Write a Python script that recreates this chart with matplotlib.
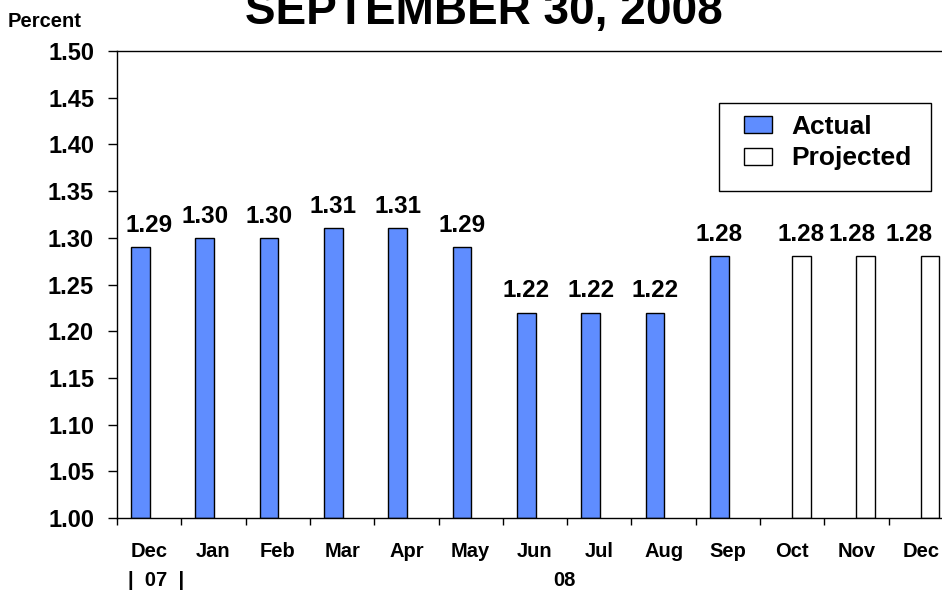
import matplotlib.pyplot as plt
import matplotlib.transforms as mtransforms
from matplotlib.patches import Patch, Rectangle
import numpy as np

plt.rcParams['font.family'] = ['Liberation Sans', 'DejaVu Sans']
plt.rcParams['font.weight'] = 'bold'

months = ['Dec', 'Jan', 'Feb', 'Mar', 'Apr', 'May', 'Jun', 'Jul', 'Aug', 'Sep', 'Oct', 'Nov', 'Dec']
actual = [1.29, 1.30, 1.30, 1.31, 1.31, 1.29, 1.22, 1.22, 1.22, 1.28]
projected = [1.28, 1.28, 1.28]
yticks = [1.00, 1.05, 1.10, 1.15, 1.20, 1.25, 1.30, 1.35, 1.40, 1.45, 1.50]

blue = '#5F8DFF'
W, H = 942, 590

fig = plt.figure(figsize=(9.42, 5.9), dpi=100)
ax = fig.add_axes([117 / W, 1 - 518 / H, 836 / W, 467 / H])

x_act = np.arange(len(actual)) - 0.135
x_proj = np.arange(len(actual), len(months)) + 0.14
w = 0.29

ax.bar(x_act, np.array(actual) - 1.0, bottom=1.0, width=w, color=blue,
       edgecolor='black', linewidth=1)
ax.bar(x_proj, np.array(projected) - 1.0, bottom=1.0, width=w, color='white',
       edgecolor='black', linewidth=1)

# value labels (a few nudged sideways like the original)
nudge = {0: 6, 11: -10, 12: -15}
for i, (x, v) in enumerate(list(zip(x_act, actual)) + list(zip(x_proj, projected))):
    ax.annotate('%.2f' % v, (x, v), xytext=(nudge.get(i, 0), 11),
                textcoords='offset points', ha='center', va='baseline',
                fontsize=17.5, fontweight='bold')

ax.set_xlim(-0.5, len(months) - 0.5)
ax.set_ylim(1.0, 1.5)
ax.set_yticks(yticks)
ax.set_yticklabels(['%.2f' % t for t in yticks], fontsize=17, fontweight='bold')
ax.tick_params(axis='y', direction='out', length=6.5, width=1, pad=10)

ax.set_xticks(np.arange(len(months)))
ax.set_xticklabels(months, fontsize=14.5, fontweight='bold')
ax.set_xticks(np.arange(len(months) + 1) - 0.5, minor=True)
ax.tick_params(axis='x', which='major', length=0, pad=17)
ax.tick_params(axis='x', which='minor', direction='out', length=5, width=1)

for s in ['left', 'bottom', 'top', 'right']:
    ax.spines[s].set_linewidth(1)
    ax.spines[s].set_color('black')

trans = mtransforms.blended_transform_factory(ax.transData, ax.transAxes)
ax.text(0.1, -0.133, '|  07  |', transform=trans, ha='center', va='center',
        fontsize=14.5, fontweight='bold')
ax.text(6.45, -0.133, '08', transform=trans, ha='center', va='center',
        fontsize=14.5, fontweight='bold')

fig.text(484 / W, 1 - 24 / H, 'SEPTEMBER 30, 2008', ha='center', va='baseline',
         fontsize=33, fontweight='bold')
fig.text(8 / W, 1 - 27 / H, 'Percent', ha='left', va='baseline',
         fontsize=14.5, fontweight='bold')

# legend: entries without frame, plus a separate box like the original
handles = [Patch(facecolor=blue, edgecolor='black', linewidth=1, label='Actual'),
           Patch(facecolor='white', edgecolor='black', linewidth=1, label='Projected')]
leg = fig.legend(handles=handles, loc='upper left',
                 bbox_to_anchor=(744 / W, 1 - 115 / H),
                 fontsize=19, frameon=False,
                 handlelength=1.05, handleheight=0.62, handletextpad=0.75,
                 labelspacing=0.28, borderpad=0, borderaxespad=0)
for t in leg.get_texts():
    t.set_fontweight('bold')
fig.patches.append(Rectangle((719 / W, 1 - 191 / H), 212 / W, 88 / H,
                             transform=fig.transFigure, facecolor='none',
                             edgecolor='black', linewidth=1))

fig.savefig('out.png', dpi=100)
